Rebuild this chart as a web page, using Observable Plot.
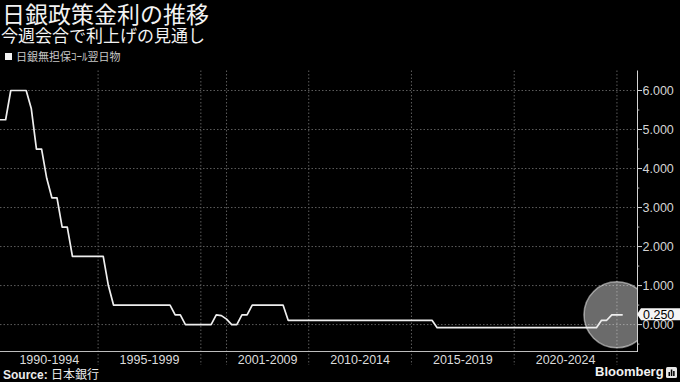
<!DOCTYPE html>
<html>
<head>
<meta charset="utf-8">
<script src="https://cdn.jsdelivr.net/npm/d3@7"></script>
<script src="https://cdn.jsdelivr.net/npm/@observablehq/plot@0.6"></script>
<style>
  html, body { margin: 0; padding: 0; background: #000; }
  #wrap { position: relative; width: 680px; height: 382px; overflow: hidden; background: #000;
          font-family: "Liberation Sans", Arial, sans-serif; color: #e6e6e6; }
  #head { position: relative; height: 64px; }
  .cjk { font-family: "Noto Sans CJK JP", "Noto Sans", sans-serif; }
  .abs { position: absolute; white-space: nowrap; }
  #title { left: 2px; top: 2px; font-size: 23px; line-height: 23px; color: #f2f2f2; }
  #sub { left: 1px; top: 26px; font-size: 17px; line-height: 17px; color: #f2f2f2; }
  #sw { left: 5px; top: 53px; width: 7px; height: 7px; background: #f2f2f2; }
  #legend { left: 16px; top: 51px; font-size: 11px; line-height: 11px; color: #c8c8c8; }
  #chart svg { display: block; }
  #source { left: 3px; top: 368px; font-size: 12px; line-height: 12px; color: #ececec; }
  #source b { font-family: "Liberation Sans", Arial, sans-serif; font-weight: bold; }
  #logo { left: 595px; top: 365px; font-size: 13px; line-height: 14px; font-weight: bold; color: #f2f2f2; }
  #icon { left: 666px; top: 367px; }
</style>
</head>
<body>
<div id="wrap">
  <div id="head">
    <div id="title" class="abs cjk"></div>
    <div id="sub" class="abs cjk"></div>
    <div id="sw" class="abs"></div>
    <div id="legend" class="abs cjk"></div>
  </div>
  <div id="chart"></div>
  <div id="source" class="abs"><b>Source:</b> <span class="cjk"></span></div>
  <div id="logo" class="abs">Bloomberg</div>
  <svg id="icon" class="abs" width="11" height="11" viewBox="0 0 11 11">
    <rect x="0" y="0" width="11" height="11" rx="1.5" fill="#e8e8e8"></rect>
    <rect x="2.5" y="5" width="1.5" height="4" fill="#000"></rect>
    <rect x="4.8" y="2.5" width="1.5" height="6.5" fill="#000"></rect>
    <rect x="7.1" y="4" width="1.5" height="5" fill="#000"></rect>
  </svg>
</div>
<script>
// ---- text ----
const titleText = "日銀政策金利の推移";
const subtitleText = "今週会合で利上げの見通し";
const seriesName = "日銀無担保ｺｰﾙ翌日物";
const sourceText = "日本銀行";

// ---- series values (one point per step along the x axis) ----
const rates = [
  5.25, 5.25, 6, 6, 6, 6, 5.53, 4.5, 4.5, 3.75,
  3.25, 3.25, 2.5, 2.5, 1.75, 1.75, 1.75, 1.75, 1.75, 1.75,
  1.75, 1.0, 0.5, 0.5, 0.5, 0.5, 0.5, 0.5, 0.5, 0.5,
  0.5, 0.5, 0.5, 0.5, 0.25, 0.25, 0, 0, 0, 0,
  0, 0, 0.25, 0.23, 0.14, 0, 0, 0.25, 0.25, 0.5,
  0.5, 0.5, 0.5, 0.5, 0.5, 0.5, 0.11, 0.11, 0.11, 0.11,
  0.11, 0.11, 0.11, 0.11, 0.11, 0.11, 0.11, 0.11, 0.11, 0.11,
  0.11, 0.11, 0.11, 0.11, 0.11, 0.11, 0.11, 0.11, 0.11, 0.11,
  0.11, 0.11, 0.11, 0.11, 0.11, -0.08, -0.08, -0.08, -0.08, -0.08,
  -0.08, -0.08, -0.08, -0.08, -0.08, -0.08, -0.08, -0.08, -0.08, -0.08,
  -0.08, -0.08, -0.08, -0.08, -0.08, -0.08, -0.08, -0.08, -0.08, -0.08,
  -0.08, -0.08, -0.08, -0.08, -0.08, -0.08, -0.08, 0.11, 0.11, 0.25,
  0.25, 0.25
];

// ---- x categories (periods) ----
const periodLabels = ["1990-1994", "1995-1999", "2001-2009", "2010-2014", "2015-2019", "2020-2024"];
const periodStart  = [0, 19, 44, 60, 80, 100];
const periodEnd    = [19, 39, 60, 80, 100, 120];
const periodBreaks = [19, 39, 44, 60, 80, 100, 120];
const xDomain = [0, 124];

// ---- y ticks ----
const yTicks = [0, 1, 2, 3, 4, 5, 6];
const yMinorTicks = [-0.5, 0.5, 1.5, 2.5, 3.5, 4.5, 5.5];
const yDomain = [-0.69, 6.5];

// ---- highlight ----
const highlight = [{i: 120, v: 0.25}];

document.getElementById("title").textContent = titleText;
document.getElementById("sub").textContent = subtitleText;
document.getElementById("legend").textContent = seriesName;
document.querySelector("#source span").textContent = sourceText;

const data = rates.map((v, i) => ({i, v}));
const periods = periodLabels.map((label, k) => ({label, mid: (periodStart[k] + periodEnd[k]) / 2}));
const fmt = d3.format(".3f");
const lastValue = rates[rates.length - 1];

function valueLabel(index, scales, values, dims) {
  const y = scales.y(lastValue);
  const x0 = dims.width - dims.marginRight;
  const h = 12, a = 4;
  const g = d3.create("svg:g");
  g.append("path")
    .attr("d", `M${x0},${y}L${x0 + a},${y - h / 2}L${dims.width},${y - h / 2}L${dims.width},${y + h / 2}L${x0 + a},${y + h / 2}Z`)
    .attr("fill", "#f4f4f4");
  g.append("text")
    .attr("x", x0 + a + 2)
    .attr("y", y)
    .attr("dy", "0.36em")
    .attr("text-anchor", "start")
    .attr("fill", "#000")
    .attr("font-size", 12.5)
    .text(fmt(lastValue));
  return g.node();
}

const chart = Plot.plot({
  width: 680,
  height: 304,
  marginTop: 6.5,
  marginBottom: 17,
  marginLeft: 0,
  marginRight: 43,
  x: {domain: xDomain, axis: null},
  y: {
    domain: yDomain, axis: "right", ticks: yTicks, tickFormat: fmt,
    tickSize: 4, tickPadding: 1, line: true, label: null
  },
  style: {
    background: "#000",
    color: "#d4d4d4",
    fontSize: "12.5px",
    fontFamily: "'Liberation Sans', Arial, sans-serif"
  },
  marks: [
    Plot.ruleY(yTicks, {stroke: "#5c5c5c", strokeDasharray: "1.5,2"}),
    Plot.ruleX(periodBreaks, {stroke: "#5c5c5c", strokeDasharray: "1.5,2", insetBottom: -14}),
    Plot.ruleY([yDomain[0]], {stroke: "#bdbdbd"}),
    Plot.ruleY(yMinorTicks, {x1: () => xDomain[1], x2: () => xDomain[1] + 0.45, stroke: "#bdbdbd"}),
    Plot.dot(highlight, {x: "i", y: "v", r: 33, fill: "#ffffff", fillOpacity: 0.42,
                         stroke: "#ffffff", strokeOpacity: 0.5, clip: true}),
    Plot.line(data, {x: "i", y: "v", stroke: "#eeeeee", strokeWidth: 1.7}),
    Plot.text(periods, {x: "mid", y: () => yDomain[0], text: "label", dy: 8, fill: "#dcdcdc", fontSize: 12.5}),
    valueLabel
  ]
});
document.getElementById("chart").appendChild(chart);
</script>
</body>
</html>
